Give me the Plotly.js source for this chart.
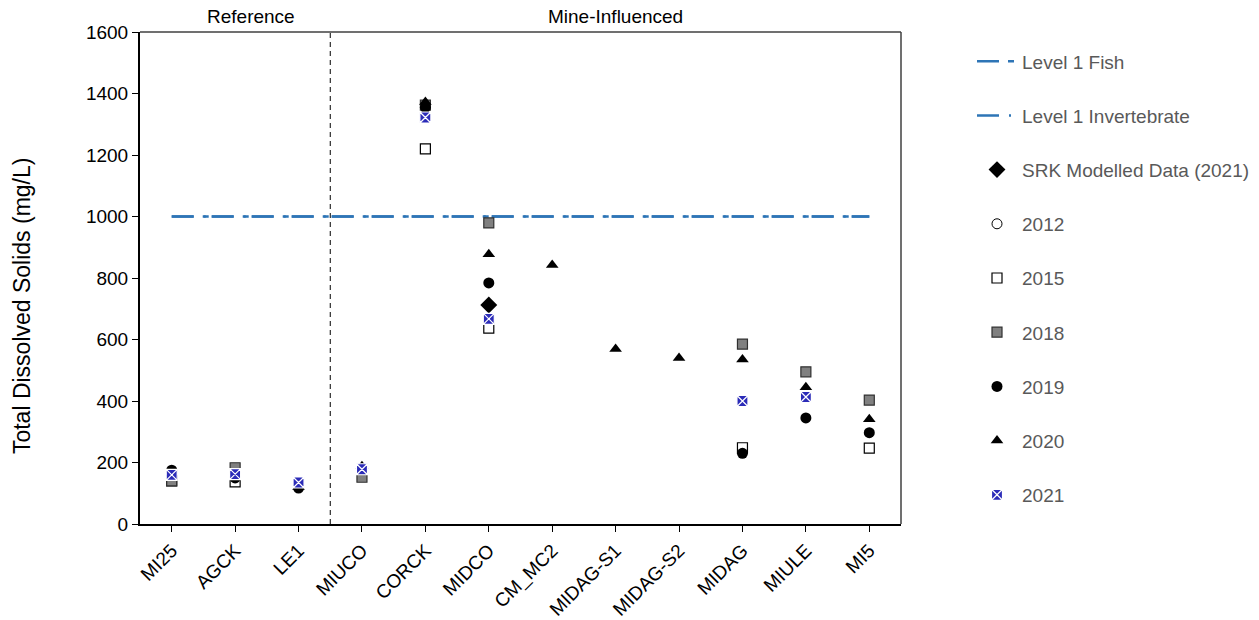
<!DOCTYPE html>
<html>
<head>
<meta charset="utf-8">
<script src="https://cdn.plot.ly/plotly-3.0.1.min.js"></script>
<style>
  html, body { margin: 0; padding: 0; background: #fff; }
  #chart { width: 1259px; height: 620px; }
</style>
</head>
<body>
<div id="chart"></div>
<script>
// Monitoring stations (reference stations first, then mine-influenced)
const stations = ['MI25', 'AGCK', 'LE1', 'MIUCO', 'CORCK', 'MIDCO', 'CM_MC2',
                  'MIDAG-S1', 'MIDAG-S2', 'MIDAG', 'MIULE', 'MI5'];

// Total dissolved solids (mg/L) by sampling year
const srk2021 = [null, null, null, null, null, 712, null, null, null, null, null, null];
const tds2012 = [null, null, null, null, null, null, null, null, null, null, null, null];
const tds2015 = [140, 137, null, null, 1220, 637, null, null, null, 248, null, 247];
const tds2018 = [140, 183, null, 152, 1362, 979, null, null, null, 585, 495, 403];
const tds2019 = [175, 150, 117, null, 1355, 784, null, null, null, 230, 345, 297];
const tds2020 = [null, null, 120, 188, 1372, 877, 842, 569, 540, 535, 445, 341];
const tds2021 = [160, 162, 135, 178, 1322, 667, null, null, null, 400, 413, null];

// Level 1 benchmarks (mg/L)
const level1Fish = 1000;
const level1Invert = 1000;

const lineBlue = '#2e75b6';
const legendNames = {
  fish: 'Level 1 Fish',
  invert: 'Level 1 Invertebrate',
  srk: 'SRK Modelled Data (2021)'
};

const traces = [
  {
    name: legendNames.fish, x: stations, y: stations.map(() => level1Fish),
    type: 'scatter', mode: 'lines', legendgroup: 'g1',
    line: { color: lineBlue, width: 2.5, dash: '22px,9px,6px,3px' }, hoverinfo: 'skip'
  },
  {
    name: legendNames.invert, x: stations, y: stations.map(() => level1Invert),
    type: 'scatter', mode: 'lines', legendgroup: 'g2',
    line: { color: lineBlue, width: 2.5, dash: '22px,10px,2px,6px' }, hoverinfo: 'skip'
  },
  {
    name: legendNames.srk, x: stations, y: srk2021, type: 'scatter', mode: 'markers', legendgroup: 'g3',
    marker: { symbol: 'diamond', size: 13, color: '#000', line: { color: '#000', width: 0 } }
  },
  {
    name: '2012', x: stations, y: tds2012, type: 'scatter', mode: 'markers', legendgroup: 'g4',
    marker: { symbol: 'circle', size: 10, color: '#fff', line: { color: '#000', width: 1 } }
  },
  {
    name: '2015', x: stations, y: tds2015, type: 'scatter', mode: 'markers', legendgroup: 'g5',
    marker: { symbol: 'square', size: 10, color: '#fff', line: { color: '#000', width: 1.2 } }
  },
  {
    name: '2018', x: stations, y: tds2018, type: 'scatter', mode: 'markers', legendgroup: 'g6',
    marker: { symbol: 'square', size: 10, color: '#808080', line: { color: '#303030', width: 1.2 } }
  },
  {
    name: '2019', x: stations, y: tds2019, type: 'scatter', mode: 'markers', legendgroup: 'g7',
    marker: { symbol: 'circle', size: 11, color: '#000', line: { color: '#000', width: 0 } }
  },
  {
    name: '2020', x: stations, y: tds2020, type: 'scatter', mode: 'markers', legendgroup: 'g8',
    marker: { symbol: 'triangle-up', size: 11, color: '#000', line: { color: '#000', width: 0 } }
  },
  {
    name: '2021', x: stations, y: tds2021, type: 'scatter', mode: 'markers', legendgroup: 'g9',
    marker: { symbol: 'square-x', size: 11, color: '#2b2bb8', line: { color: '#ffffff', width: 1.2 } }
  }
];

const layout = {
  width: 1259, height: 620,
  paper_bgcolor: '#fff', plot_bgcolor: '#fff',
  font: { family: 'Liberation Sans, Arial, sans-serif', size: 19, color: '#000' },
  margin: { l: 140, r: 358, t: 32, b: 96, autoexpand: false },
  showlegend: true,
  legend: {
    x: 1.0933, y: 0.979, xanchor: 'left', yanchor: 'top',
    font: { size: 19, color: '#595959' },
    tracegroupgap: 26.5, itemwidth: 40,
    bgcolor: 'rgba(0,0,0,0)'
  },
  xaxis: {
    type: 'category', categoryorder: 'array', categoryarray: stations,
    range: [-0.5, 11.5], tickangle: -45,
    ticks: 'outside', ticklen: 6, tickcolor: '#000', tickwidth: 1,
    showline: true, linecolor: '#000', linewidth: 2, mirror: false,
    showgrid: false, zeroline: false,
    tickfont: { size: 19, color: '#000' }
  },
  yaxis: {
    range: [0, 1600], dtick: 200, tick0: 0,
    ticks: 'outside', ticklen: 6, tickcolor: '#000', tickwidth: 1,
    showline: true, linecolor: '#000', linewidth: 2, mirror: false,
    showgrid: false, zeroline: false,
    tickfont: { size: 19, color: '#000' }
  },
  shapes: [
    // top and right frame
    { type: 'line', xref: 'paper', yref: 'paper', x0: 0, x1: 1, y0: 1, y1: 1, line: { color: '#404040', width: 1.5 } },
    { type: 'line', xref: 'paper', yref: 'paper', x0: 1, x1: 1, y0: 0, y1: 1, line: { color: '#404040', width: 1.5 } },
    // divider between reference and mine-influenced stations
    { type: 'line', xref: 'x', yref: 'paper', x0: 2.5, x1: 2.5, y0: 0, y1: 1, line: { color: '#000', width: 1, dash: '5px,4px' } }
  ],
  annotations: [
    { text: 'Reference', xref: 'x', yref: 'paper', x: 1.25, y: 1, yanchor: 'bottom', yshift: 3, showarrow: false, font: { size: 19, color: '#000' } },
    { text: 'Mine-Influenced', xref: 'x', yref: 'paper', x: 7.0, y: 1, yanchor: 'bottom', yshift: 3, showarrow: false, font: { size: 19, color: '#000' } },
    // y-axis title
    { text: 'Total Dissolved Solids (mg/L)', xref: 'paper', yref: 'paper', x: -0.155, y: 0.443,
      xanchor: 'center', yanchor: 'middle', textangle: -90, showarrow: false, font: { size: 23, color: '#000' } }
  ]
};

Plotly.newPlot('chart', traces, layout, { displayModeBar: false, staticPlot: true });
</script>
</body>
</html>
